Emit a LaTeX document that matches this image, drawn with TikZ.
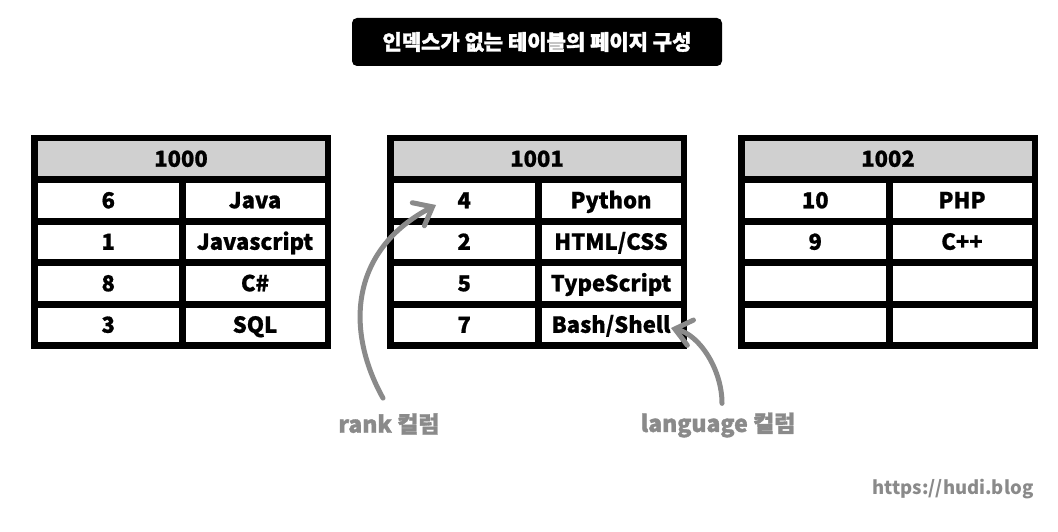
\documentclass[tikz,border=0pt]{standalone}
\usepackage{fontspec}
\setmainfont{Noto Sans CJK KR}
\newfontfamily\heavyfont{Noto Sans CJK KR}[BoldFeatures={FakeBold=1.5}]
\newfontfamily\boxfont{Noto Sans CJK KR}[BoldFeatures={FakeBold=0.8}]
\usetikzlibrary{arrows.meta}
\definecolor{headgray}{HTML}{D0D0D0}
\definecolor{notegray}{HTML}{8A8A8A}
\tikzset{
  cellbox/.style={fill=white, inner sep=0pt, minimum height=34.5pt, text height=16pt, text depth=0pt, font=\boxfont\bfseries\fontsize{22}{26}\selectfont},
  headbox/.style={cellbox, fill=headgray, minimum width=287pt},
  leftbox/.style={cellbox, minimum width=141.5pt},
  rightbox/.style={cellbox, minimum width=139pt},
  note/.style={text=notegray, inner sep=2pt, font=\heavyfont\bfseries\fontsize{23}{27}\selectfont},
  pointer/.style={draw=notegray, line width=5pt, line cap=round, -{Straight Barb[length=16pt,width=26pt,line cap=round]}}
}
\begin{document}
\begin{tikzpicture}[x=1pt,y=-1pt]
  \useasboundingbox (0,0) rectangle (1058,532);
  \node[fill=black, rounded corners=5pt, minimum width=370pt, minimum height=48pt, text=white, font=\heavyfont\bfseries\fontsize{21}{25}\selectfont] (title) at (537,42) {인덱스가 없는 테이블의 페이지 구성};
  % page frames and headers
  \foreach \t/\x/\hd in {a/31/1000,b/387/1001,c/738/1002} {
    \fill (\x,135) rectangle ++(300,213.5);
    \node[headbox] (\t0) at (\x+150,158.75) {\hd};
  }
  \foreach \r/\l [count=\k] in {6/Java,1/Javascript,8/C\#,3/SQL} {
    \node[leftbox] (a\k l) at (108.25,158.75+41.5*\k) {\r};
    \node[rightbox] (a\k r) at (255,158.75+41.5*\k) {\l};
  }
  \foreach \r/\l [count=\k] in {4/Python,2/HTML\slash CSS,5/TypeScript,7/Bash\slash Shell} {
    \node[leftbox] (b\k l) at (464.25,158.75+41.5*\k) {\r};
    \node[rightbox] (b\k r) at (611,158.75+41.5*\k) {\l};
  }
  \foreach \r/\l [count=\k] in {10/PHP,9/C++,\relax/\relax,\relax/\relax} {
    \node[leftbox] (c\k l) at (815.25,158.75+41.5*\k) {\r};
    \node[rightbox] (c\k r) at (962,158.75+41.5*\k) {\l};
  }
  % column notes
  \node[note] (rank) at (389,424) {rank 컬럼};
  \node[note] (lang) at (718,425) {language 컬럼};
  \coordinate (rank tip) at (436,205);
  \coordinate (lang tip) at (671,328);
  \draw[pointer] (rank.north) ++(-6,-13) .. controls (345,330) and (350,250) .. (rank tip);
  \draw[pointer] (lang.north) ++(4,-7) .. controls (722,370) and (700,335) .. (lang tip);
  \node[text=notegray, font=\bfseries\fontsize{18.5}{22}\selectfont] (url) at (953,489) {https://hudi.blog};
\end{tikzpicture}
\end{document}
